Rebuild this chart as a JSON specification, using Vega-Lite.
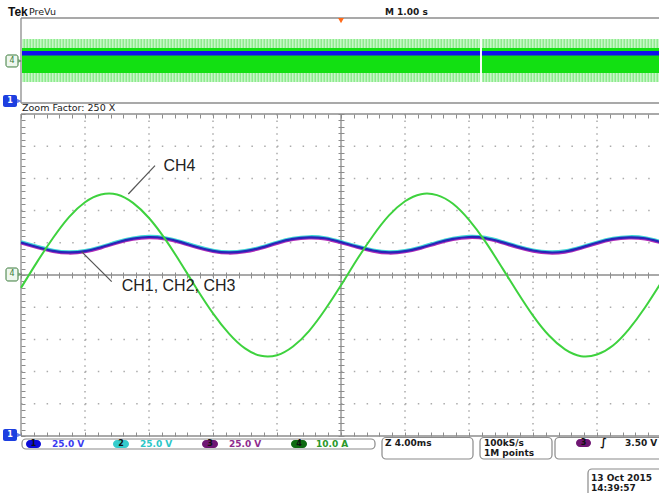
{
  "$schema": "https://vega.github.io/schema/vega-lite/v6.json",
  "width": 659,
  "height": 493,
  "autosize": "none",
  "padding": 0,
  "background": "white",
  "config": {"view": {"stroke": null}},
  "resolve": {"axis": {"x": "independent", "y": "independent"}},
  "encoding": {
    "x": {"field": "t", "type": "quantitative", "scale": {"domain": [-1.3125, 39.875], "nice": false, "zero": false}, "axis": null},
    "y": {"field": "v", "type": "quantitative", "scale": {"domain": [-6.77, 8.54], "nice": false, "zero": false}, "axis": null}
  },
  "layer": [
    {
      "data": {"values": [{"t": 0.0625, "t2": 40, "v": 5.994, "v2": 7.329}]},
      "mark": {"type": "rect", "fill": "#8fea8f"},
      "encoding": {"x2": {"field": "t2"}, "y2": {"field": "v2"}}
    },
    {
      "data": {"values": [{"t": 0.0625, "t2": 40, "v": 7.189}, {"t": 0.0625, "t2": 40, "v": 6.134}]},
      "mark": {"type": "rule", "stroke": "#c8f7c8", "strokeWidth": 9, "strokeDash": [1.5, 1.5]},
      "encoding": {"x2": {"field": "t2"}}
    },
    {
      "data": {"values": [{"t": 0.0625, "t2": 40, "v": 6.273, "v2": 7.05}]},
      "mark": {"type": "rect", "fill": "#12e012"},
      "encoding": {"x2": {"field": "t2"}, "y2": {"field": "v2"}}
    },
    {
      "data": {"values": [{"t": 0.0625, "t2": 40, "v": 6.817, "v2": 6.957}]},
      "mark": {"type": "rect", "fill": "#1010ee"},
      "encoding": {"x2": {"field": "t2"}, "y2": {"field": "v2"}}
    },
    {
      "data": {"values": [{"t": 28.69, "t2": 28.81, "v": 5.99, "v2": 7.34}]},
      "mark": {"type": "rect", "fill": "white"},
      "encoding": {"x2": {"field": "t2"}, "y2": {"field": "v2"}}
    },
    {
      "data": {"values": [
        {"t": 4, "v": 5, "v2": -5}, {"t": 8, "v": 5, "v2": -5}, {"t": 12, "v": 5, "v2": -5}, {"t": 16, "v": 5, "v2": -5},
        {"t": 24, "v": 5, "v2": -5}, {"t": 28, "v": 5, "v2": -5}, {"t": 32, "v": 5, "v2": -5}, {"t": 36, "v": 5, "v2": -5}
      ]},
      "mark": {"type": "rule", "stroke": "#ababab", "strokeWidth": 1.5, "strokeDash": [1.5, 4.94]},
      "encoding": {
        "x": {"field": "t", "type": "quantitative", "scale": {"domain": [-1.3125, 39.875], "nice": false, "zero": false},
          "axis": {"orient": "bottom", "offset": -221, "domain": false, "labels": false, "grid": false, "ticks": true, "tickSize": 6, "tickColor": "#8c8c8c", "tickWidth": 1, "title": null,
            "values": [0,0.8,1.6,2.4,3.2,4,4.8,5.6,6.4,7.2,8,8.8,9.6,10.4,11.2,12,12.8,13.6,14.4,15.2,16,16.8,17.6,18.4,19.2,20,20.8,21.6,22.4,23.2,24,24.8,25.6,26.4,27.2,28,28.8,29.6,30.4,31.2,32,32.8,33.6,34.4,35.2,36,36.8,37.6,38.4,39.2,40]}},
        "y": {"field": "v", "type": "quantitative", "scale": {"domain": [-6.77, 8.54], "nice": false, "zero": false},
          "axis": {"orient": "right", "offset": -321, "domain": false, "labels": false, "grid": false, "ticks": true, "tickSize": 6, "tickColor": "#8c8c8c", "tickWidth": 1, "title": null,
            "values": [-5,-4.8,-4.6,-4.4,-4.2,-4,-3.8,-3.6,-3.4,-3.2,-3,-2.8,-2.6,-2.4,-2.2,-2,-1.8,-1.6,-1.4,-1.2,-1,-0.8,-0.6,-0.4,-0.2,0,0.2,0.4,0.6,0.8,1,1.2,1.4,1.6,1.8,2,2.2,2.4,2.6,2.8,3,3.2,3.4,3.6,3.8,4,4.2,4.4,4.6,4.8,5]}},
        "y2": {"field": "v2"}
      }
    },
    {
      "data": {"values": [
        {"t": 0, "t2": 40, "v": 4}, {"t": 0, "t2": 40, "v": 3}, {"t": 0, "t2": 40, "v": 2}, {"t": 0, "t2": 40, "v": 1},
        {"t": 0, "t2": 40, "v": -1}, {"t": 0, "t2": 40, "v": -2}, {"t": 0, "t2": 40, "v": -3}, {"t": 0, "t2": 40, "v": -4}
      ]},
      "mark": {"type": "rule", "stroke": "#ababab", "strokeWidth": 1.5, "strokeDash": [1.5, 11.3]},
      "encoding": {
        "x": {"field": "t", "type": "quantitative", "scale": {"domain": [-1.3125, 39.875], "nice": false, "zero": false},
          "axis": {"orient": "bottom", "offset": -379, "domain": false, "labels": false, "grid": false, "ticks": true, "tickSize": 4, "tickColor": "#8c8c8c", "tickWidth": 1, "title": null,
            "values": [0,0.8,1.6,2.4,3.2,4,4.8,5.6,6.4,7.2,8,8.8,9.6,10.4,11.2,12,12.8,13.6,14.4,15.2,16,16.8,17.6,18.4,19.2,20,20.8,21.6,22.4,23.2,24,24.8,25.6,26.4,27.2,28,28.8,29.6,30.4,31.2,32,32.8,33.6,34.4,35.2,36,36.8,37.6,38.4,39.2,40]}},
        "x2": {"field": "t2"},
        "y": {"field": "v", "type": "quantitative", "scale": {"domain": [-6.77, 8.54], "nice": false, "zero": false},
          "axis": {"orient": "right", "offset": -638, "domain": false, "labels": false, "grid": false, "ticks": true, "tickSize": 4, "tickColor": "#8c8c8c", "tickWidth": 1, "title": null,
            "values": [-5,-4.8,-4.6,-4.4,-4.2,-4,-3.8,-3.6,-3.4,-3.2,-3,-2.8,-2.6,-2.4,-2.2,-2,-1.8,-1.6,-1.4,-1.2,-1,-0.8,-0.6,-0.4,-0.2,0,0.2,0.4,0.6,0.8,1,1.2,1.4,1.6,1.8,2,2.2,2.4,2.6,2.8,3,3.2,3.4,3.6,3.8,4,4.2,4.4,4.6,4.8,5]}}
      }
    },
    {
      "data": {"values": [
        {"t": 0, "t2": 40, "v": 7.981, "v2": 7.981},
        {"t": 0, "t2": 40, "v": 5.342, "v2": 5.342},
        {"t": 0, "t2": 0, "v": 5.342, "v2": 7.981},
        {"t": 0, "t2": 40, "v": 5, "v2": 5},
        {"t": 0, "t2": 40, "v": -5, "v2": -5},
        {"t": 0, "t2": 0, "v": -5, "v2": 5},
        {"t": 0, "t2": 40, "v": 0, "v2": 0},
        {"t": 20, "t2": 20, "v": -5, "v2": 5}
      ]},
      "mark": {"type": "rule", "stroke": "#8c8c8c", "strokeWidth": 1.3},
      "encoding": {
        "x": {"field": "t", "type": "quantitative", "scale": {"domain": [-1.3125, 39.875], "nice": false, "zero": false},
          "axis": {"orient": "top", "offset": -436, "domain": false, "labels": false, "grid": false, "ticks": true, "tickSize": 4, "tickColor": "#8c8c8c", "tickWidth": 1, "title": null,
            "values": [0,0.8,1.6,2.4,3.2,4,4.8,5.6,6.4,7.2,8,8.8,9.6,10.4,11.2,12,12.8,13.6,14.4,15.2,16,16.8,17.6,18.4,19.2,20,20.8,21.6,22.4,23.2,24,24.8,25.6,26.4,27.2,28,28.8,29.6,30.4,31.2,32,32.8,33.6,34.4,35.2,36,36.8,37.6,38.4,39.2,40]}},
        "x2": {"field": "t2"},
        "y2": {"field": "v2"}
      }
    },
    {
      "data": {"name": "waves", "values": [
        {"t": 0, "ch1": 1.01, "ch2": 1.04, "ch3": 0.98, "ch4": -0.40},
        {"t": 1, "ch1": 0.87, "ch2": 0.90, "ch3": 0.84, "ch4": 0.40},
        {"t": 2, "ch1": 0.75, "ch2": 0.78, "ch3": 0.72, "ch4": 1.15},
        {"t": 3, "ch1": 0.70, "ch2": 0.73, "ch3": 0.67, "ch4": 1.80},
        {"t": 4, "ch1": 0.74, "ch2": 0.77, "ch3": 0.71, "ch4": 2.26},
        {"t": 5, "ch1": 0.86, "ch2": 0.89, "ch3": 0.83, "ch4": 2.50},
        {"t": 6, "ch1": 1.01, "ch2": 1.04, "ch3": 0.98, "ch4": 2.50},
        {"t": 7, "ch1": 1.13, "ch2": 1.16, "ch3": 1.10, "ch4": 2.24},
        {"t": 8, "ch1": 1.18, "ch2": 1.21, "ch3": 1.15, "ch4": 1.77},
        {"t": 9, "ch1": 1.14, "ch2": 1.17, "ch3": 1.11, "ch4": 1.12},
        {"t": 10, "ch1": 1.02, "ch2": 1.05, "ch3": 0.99, "ch4": 0.36},
        {"t": 11, "ch1": 0.87, "ch2": 0.90, "ch3": 0.84, "ch4": -0.44},
        {"t": 12, "ch1": 0.75, "ch2": 0.78, "ch3": 0.72, "ch4": -1.19},
        {"t": 13, "ch1": 0.70, "ch2": 0.73, "ch3": 0.67, "ch4": -1.82},
        {"t": 14, "ch1": 0.74, "ch2": 0.77, "ch3": 0.71, "ch4": -2.28},
        {"t": 15, "ch1": 0.85, "ch2": 0.88, "ch3": 0.82, "ch4": -2.51},
        {"t": 16, "ch1": 1.00, "ch2": 1.03, "ch3": 0.97, "ch4": -2.49},
        {"t": 17, "ch1": 1.12, "ch2": 1.15, "ch3": 1.09, "ch4": -2.22},
        {"t": 18, "ch1": 1.17, "ch2": 1.20, "ch3": 1.14, "ch4": -1.74},
        {"t": 19, "ch1": 1.14, "ch2": 1.17, "ch3": 1.11, "ch4": -1.08},
        {"t": 20, "ch1": 1.02, "ch2": 1.05, "ch3": 0.99, "ch4": -0.32},
        {"t": 21, "ch1": 0.88, "ch2": 0.91, "ch3": 0.85, "ch4": 0.48},
        {"t": 22, "ch1": 0.76, "ch2": 0.79, "ch3": 0.73, "ch4": 1.22},
        {"t": 23, "ch1": 0.70, "ch2": 0.73, "ch3": 0.67, "ch4": 1.85},
        {"t": 24, "ch1": 0.74, "ch2": 0.77, "ch3": 0.71, "ch4": 2.29},
        {"t": 25, "ch1": 0.85, "ch2": 0.88, "ch3": 0.82, "ch4": 2.51},
        {"t": 26, "ch1": 1.00, "ch2": 1.03, "ch3": 0.97, "ch4": 2.48},
        {"t": 27, "ch1": 1.12, "ch2": 1.15, "ch3": 1.09, "ch4": 2.21},
        {"t": 28, "ch1": 1.18, "ch2": 1.21, "ch3": 1.15, "ch4": 1.71},
        {"t": 29, "ch1": 1.15, "ch2": 1.18, "ch3": 1.12, "ch4": 1.05},
        {"t": 30, "ch1": 1.03, "ch2": 1.06, "ch3": 1.00, "ch4": 0.28},
        {"t": 31, "ch1": 0.88, "ch2": 0.91, "ch3": 0.85, "ch4": -0.51},
        {"t": 32, "ch1": 0.76, "ch2": 0.79, "ch3": 0.73, "ch4": -1.26},
        {"t": 33, "ch1": 0.70, "ch2": 0.73, "ch3": 0.67, "ch4": -1.88},
        {"t": 34, "ch1": 0.73, "ch2": 0.76, "ch3": 0.70, "ch4": -2.31},
        {"t": 35, "ch1": 0.85, "ch2": 0.88, "ch3": 0.82, "ch4": -2.52},
        {"t": 36, "ch1": 1.00, "ch2": 1.03, "ch3": 0.97, "ch4": -2.47},
        {"t": 37, "ch1": 1.12, "ch2": 1.15, "ch3": 1.09, "ch4": -2.19},
        {"t": 38, "ch1": 1.17, "ch2": 1.20, "ch3": 1.14, "ch4": -1.68},
        {"t": 39, "ch1": 1.14, "ch2": 1.17, "ch3": 1.11, "ch4": -1.01},
        {"t": 40, "ch1": 1.02, "ch2": 1.05, "ch3": 0.99, "ch4": -0.24}
      ]},
      "layer": [
        {"mark": {"type": "line", "stroke": "#3fd6d6", "strokeWidth": 2.4, "interpolate": "natural"},
         "encoding": {"y": {"field": "ch2", "type": "quantitative", "scale": {"domain": [-6.77, 8.54], "nice": false, "zero": false}, "axis": null}}},
        {"mark": {"type": "line", "stroke": "#b02cb8", "strokeWidth": 2.4, "interpolate": "natural"},
         "encoding": {"y": {"field": "ch3", "type": "quantitative", "scale": {"domain": [-6.77, 8.54], "nice": false, "zero": false}, "axis": null}}},
        {"mark": {"type": "line", "stroke": "#2626b8", "strokeWidth": 2.2, "interpolate": "natural"},
         "encoding": {"y": {"field": "ch1", "type": "quantitative", "scale": {"domain": [-6.77, 8.54], "nice": false, "zero": false}, "axis": null}}},
        {"mark": {"type": "line", "stroke": "#3ed23e", "strokeWidth": 2, "interpolate": "natural"},
         "encoding": {"y": {"field": "ch4", "type": "quantitative", "scale": {"domain": [-6.77, 8.54], "nice": false, "zero": false}, "axis": null}}}
      ]
    },
    {
      "data": {"values": [
        {"t": 8.375, "v": 3.394, "t2": 6.708, "v2": 2.516},
        {"t": 5.67, "v": -0.208, "t2": 3.79, "v2": 0.724}
      ]},
      "mark": {"type": "rule", "stroke": "#555555", "strokeWidth": 1.2},
      "encoding": {"x2": {"field": "t2"}, "y2": {"field": "v2"}}
    },
    {
      "data": {"values": [
        {"t": 8.9, "v": 3.385, "label": "CH4"},
        {"t": 6.29, "v": -0.342, "label": "CH1, CH2, CH3"}
      ]},
      "mark": {"type": "text", "font": "Liberation Sans", "fontSize": 16, "color": "#222222", "align": "left", "baseline": "middle"},
      "encoding": {"text": {"field": "label"}}
    },
    {
      "data": {"values": [
        {"t": 0.0625, "t2": 22.125, "v": -5.093, "v2": -5.404},
        {"t": 22.5625, "t2": 28.25, "v": -5.047, "v2": -5.714},
        {"t": 28.6875, "t2": 33.1875, "v": -5.047, "v2": -5.714},
        {"t": 33.375, "t2": 40.25, "v": -5.047, "v2": -5.714},
        {"t": 35.4375, "t2": 40.25, "v": -6.025, "v2": -7.0}
      ]},
      "mark": {"type": "rect", "fill": "white", "stroke": "#8a8a8a", "strokeWidth": 1.2, "cornerRadius": 4},
      "encoding": {"x2": {"field": "t2"}, "y2": {"field": "v2"}}
    },
    {
      "data": {"values": [
        {"t": 0.3125, "t2": 1.25, "v": -5.124, "v2": -5.373, "ch": "1"},
        {"t": 5.75, "t2": 6.75, "v": -5.124, "v2": -5.373, "ch": "2"},
        {"t": 11.3125, "t2": 12.3125, "v": -5.124, "v2": -5.373, "ch": "3"},
        {"t": 16.875, "t2": 17.875, "v": -5.124, "v2": -5.373, "ch": "4"},
        {"t": 34.6875, "t2": 35.625, "v": -5.093, "v2": -5.342, "ch": "3"}
      ]},
      "mark": {"type": "rect", "cornerRadius": 4},
      "encoding": {
        "x2": {"field": "t2"}, "y2": {"field": "v2"},
        "fill": {"field": "ch", "type": "nominal", "scale": {"domain": ["1", "2", "3", "4"], "range": ["#0b0bd8", "#35cccc", "#6f1673", "#0f6b12"]}, "legend": null}
      }
    },
    {
      "data": {"values": [
        {"t": 0.78, "v": -5.248, "label": "1"},
        {"t": 6.25, "v": -5.248, "label": "2"},
        {"t": 11.81, "v": -5.248, "label": "3"},
        {"t": 17.375, "v": -5.248, "label": "4"},
        {"t": 35.16, "v": -5.217, "label": "3"}
      ]},
      "mark": {"type": "text", "font": "DejaVu Sans", "fontSize": 8, "fontWeight": "bold", "color": "#111111", "align": "center", "baseline": "middle"},
      "encoding": {"text": {"field": "label"}}
    },
    {
      "data": {"values": [
        {"t": 1.9375, "v": -5.248, "label": "25.0 V", "ch": "1"},
        {"t": 7.4375, "v": -5.248, "label": "25.0 V", "ch": "2"},
        {"t": 13.0, "v": -5.248, "label": "25.0 V", "ch": "3"},
        {"t": 18.4375, "v": -5.248, "label": "10.0 A", "ch": "4"},
        {"t": 22.75, "v": -5.217, "label": "Z 4.00ms", "ch": "k"},
        {"t": 28.9375, "v": -5.217, "label": "100kS/s", "ch": "k"},
        {"t": 28.9375, "v": -5.528, "label": "1M points", "ch": "k"},
        {"t": 37.75, "v": -5.217, "label": "3.50 V", "ch": "k"},
        {"t": 35.625, "v": -6.30, "label": "13 Oct  2015", "ch": "k"},
        {"t": 35.625, "v": -6.60, "label": "14:39:57", "ch": "k"},
        {"t": 22.75, "v": 8.168, "label": "M 1.00 s", "ch": "k"}
      ]},
      "mark": {"type": "text", "font": "DejaVu Sans", "fontSize": 9, "fontWeight": "bold", "align": "left", "baseline": "middle"},
      "encoding": {
        "text": {"field": "label"},
        "color": {"field": "ch", "type": "nominal", "scale": {"domain": ["1", "2", "3", "4", "k"], "range": ["#3a3af0", "#2cc6c6", "#8e2b8e", "#2b982b", "#1a1a1a"]}, "legend": null}
      }
    },
    {
      "data": {"values": [{"t": 36.2, "v": -5.217, "label": "∫"}]},
      "mark": {"type": "text", "font": "DejaVu Sans", "fontSize": 11, "fontWeight": "bold", "color": "#111111", "align": "left", "baseline": "middle"},
      "encoding": {"text": {"field": "label"}}
    },
    {
      "data": {"values": [{"t": -0.8125, "v": 8.168, "label": "Tek"}]},
      "mark": {"type": "text", "font": "Liberation Sans", "fontSize": 12, "fontWeight": "bold", "color": "#111111", "align": "left", "baseline": "middle"},
      "encoding": {"text": {"field": "label"}}
    },
    {
      "data": {"values": [
        {"t": 0.5, "v": 8.168, "label": "PreVu"},
        {"t": 0.0625, "v": 5.186, "label": "Zoom Factor: 250 X"}
      ]},
      "mark": {"type": "text", "font": "DejaVu Sans", "fontSize": 9.5, "color": "#1a1a1a", "align": "left", "baseline": "middle"},
      "encoding": {"text": {"field": "label"}}
    },
    {
      "data": {"values": [
        {"t": -0.9375, "t2": -0.1875, "v": 6.46, "v2": 6.832},
        {"t": -0.9375, "t2": -0.1875, "v": -0.186, "v2": 0.217}
      ]},
      "mark": {"type": "rect", "fill": "#eef7ee", "stroke": "#3b7b3b", "strokeWidth": 1, "cornerRadius": 2},
      "encoding": {"x2": {"field": "t2"}, "y2": {"field": "v2"}}
    },
    {
      "data": {"values": [
        {"t": -0.56, "v": 6.646, "label": "4"},
        {"t": -0.56, "v": 0.016, "label": "4"}
      ]},
      "mark": {"type": "text", "font": "DejaVu Sans", "fontSize": 8, "color": "#3b7b3b", "align": "center", "baseline": "middle"},
      "encoding": {"text": {"field": "label"}}
    },
    {
      "data": {"values": [
        {"t": -0.06, "v": 6.646},
        {"t": -0.06, "v": 0.016}
      ]},
      "mark": {"type": "point", "shape": "triangle-right", "size": 14, "filled": true, "color": "#3b7b3b"}
    },
    {
      "data": {"values": [
        {"t": -1.125, "t2": -0.25, "v": 5.217, "v2": 5.59},
        {"t": -1.125, "t2": -0.25, "v": -5.155, "v2": -4.783}
      ]},
      "mark": {"type": "rect", "fill": "#1d3fe0", "cornerRadius": 2},
      "encoding": {"x2": {"field": "t2"}, "y2": {"field": "v2"}}
    },
    {
      "data": {"values": [
        {"t": -0.12, "v": 5.404},
        {"t": -0.12, "v": -4.969}
      ]},
      "mark": {"type": "point", "shape": "triangle-right", "size": 22, "filled": true, "color": "#1d3fe0"}
    },
    {
      "data": {"values": [
        {"t": -0.69, "v": 5.404, "label": "1"},
        {"t": -0.69, "v": -4.969, "label": "1"}
      ]},
      "mark": {"type": "text", "font": "DejaVu Sans", "fontSize": 8, "fontWeight": "bold", "color": "white", "align": "center", "baseline": "middle"},
      "encoding": {"text": {"field": "label"}}
    },
    {
      "data": {"values": [{"t": 20, "v": 7.9}]},
      "mark": {"type": "point", "shape": "triangle-down", "size": 35, "filled": true, "color": "#ff6a1a", "opacity": 1}
    }
  ]
}
